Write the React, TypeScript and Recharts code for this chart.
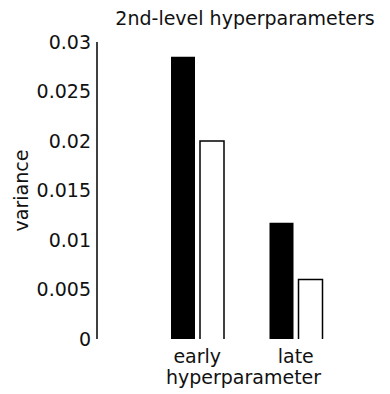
import React from 'react';
import { BarChart, Bar, XAxis, YAxis } from 'recharts';

const categories = ['early', 'late'];
const firstSeries = [0.0285, 0.01175];
const secondSeries = [0.02, 0.006];
const yTicks = [0, 0.005, 0.01, 0.015, 0.02, 0.025, 0.03];

const data = categories.map((c, i) => ({ name: c, a: firstSeries[i], b: secondSeries[i] }));

const FONT = '"DejaVu Sans", Verdana, sans-serif';

const OpenBar = (props: any) => {
  const { x, y, width, height } = props;
  if (width == null || height == null) return null;
  const d = `M${x},${y + height} V${y} H${x + width} V${y + height}`;
  return <path d={d} fill="#fff" stroke="#000" strokeWidth={1.5} />;
};

export default function App() {
  return (
    <div style={{ position: 'absolute', left: 0, top: 0, width: 390, height: 394, background: '#fff' }}>
      <div
        style={{
          position: 'absolute',
          left: 0,
          width: 490,
          top: 7,
          textAlign: 'center',
          fontFamily: FONT,
          fontSize: 19,
          lineHeight: '22px',
          color: '#111',
          whiteSpace: 'nowrap',
        }}
      >
        2nd-level hyperparameters
      </div>
      <BarChart
        width={390}
        height={394}
        data={data}
        margin={{ top: 42, right: 0, bottom: 0, left: 0 }}
        barSize={24}
        barGap={5}
      >
        <XAxis
          dataKey="name"
          axisLine={false}
          tickLine={false}
          tickSize={0}
          tickMargin={11}
          height={55}
          padding={{ left: 51, right: 45 }}
          tick={{ fill: '#111', fontSize: 19, fontFamily: FONT }}
          label={{
            value: 'hyperparameter',
            position: 'insideBottom',
            offset: 10,
            fill: '#111',
            fontSize: 19,
            fontFamily: FONT,
          }}
        />
        <YAxis
          width={97}
          domain={[0, 0.03]}
          ticks={yTicks}
          interval={0}
          tickLine={false}
          tickSize={0}
          tickMargin={6}
          axisLine={{ stroke: '#000', strokeWidth: 1.5 }}
          tick={{ fill: '#111', fontSize: 19, fontFamily: FONT }}
          label={{
            value: 'variance',
            angle: -90,
            position: 'insideLeft',
            offset: 21,
            style: { textAnchor: 'middle' },
            fill: '#111',
            fontSize: 19,
            fontFamily: FONT,
          }}
        />
        <Bar dataKey="a" fill="#000" isAnimationActive={false} />
        <Bar dataKey="b" fill="#fff" shape={<OpenBar />} isAnimationActive={false} />
      </BarChart>
    </div>
  );
}
